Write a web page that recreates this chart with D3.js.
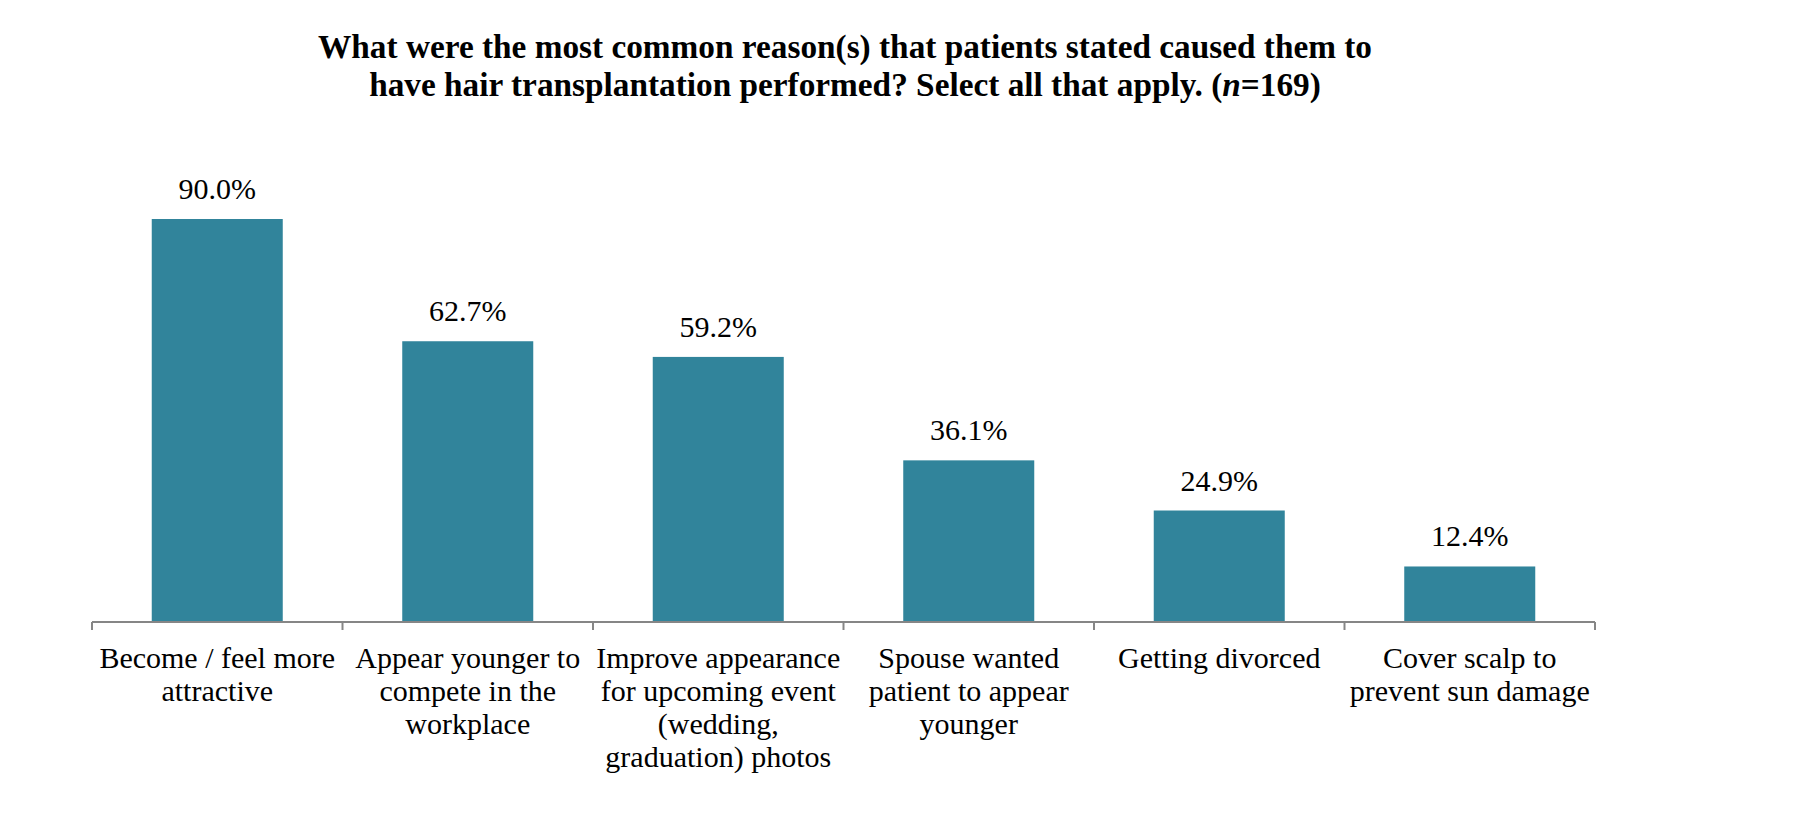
<!DOCTYPE html>
<html>
<head>
<meta charset="utf-8">
<script src="https://cdn.jsdelivr.net/npm/d3@7"></script>
<style>
  html, body { margin: 0; padding: 0; background: #fff; }
  svg text { font-family: "Liberation Serif", "Times New Roman", serif; fill: #000; }
</style>
</head>
<body>
<div id="chart"></div>
<script>
// Chart data
const categories = [
    ['Become / feel more', 'attractive'],
    ['Appear younger to', 'compete in the', 'workplace'],
    ['Improve appearance', 'for upcoming event', '(wedding,', 'graduation) photos'],
    ['Spouse wanted', 'patient to appear', 'younger'],
    ['Getting divorced'],
    ['Cover scalp to', 'prevent sun damage']
];
const values = [90.0, 62.7, 59.2, 36.1, 24.9, 12.4];
const titleLine1 = 'What were the most common reason(s) that patients stated caused them to';
const titleLine2 = ['have hair transplantation performed? Select all that apply. (', 'n', '=169)'];

function createBarChart(containerId = 'chart') {
    d3.select(`#${containerId}`).html('');

    const width = 1800;
    const height = 815;
    const left = 92, right = 1595, baseY = 622;

    const svg = d3.select(`#${containerId}`)
        .append('svg')
        .attr('width', width)
        .attr('height', height);

    // Title (two lines, "n" in italics)
    const title = svg.append('text')
        .attr('text-anchor', 'middle')
        .style('font-size', '33.3px')
        .style('font-weight', 'bold');
    title.append('tspan').attr('x', 845).attr('y', 58).text(titleLine1);
    const l2 = title.append('tspan').attr('x', 845).attr('dy', 38);
    l2.append('tspan').text(titleLine2[0]);
    l2.append('tspan').style('font-style', 'italic').text(titleLine2[1]);
    l2.append('tspan').text(titleLine2[2]);

    const x = d3.scaleBand()
        .domain(d3.range(values.length))
        .range([left, right])
        .paddingInner(0.477)
        .paddingOuter(0.2385);

    const y = d3.scaleLinear()
        .domain([0, 100])
        .range([baseY, baseY - 100 * 403 / 90]);

    // Bars
    svg.selectAll('rect.bar')
        .data(values)
        .enter()
        .append('rect')
        .attr('class', 'bar')
        .attr('x', (d, i) => x(i))
        .attr('y', d => y(d))
        .attr('width', x.bandwidth())
        .attr('height', d => y(0) - y(d))
        .attr('fill', '#31849b');

    // Value labels
    svg.selectAll('text.value')
        .data(values)
        .enter()
        .append('text')
        .attr('class', 'value')
        .attr('x', (d, i) => x(i) + x.bandwidth() / 2)
        .attr('y', d => y(d) - 20)
        .attr('text-anchor', 'middle')
        .style('font-size', '30px')
        .text(d => d.toFixed(1) + '%');

    // Category axis, ticks sit between the bands
    const axis = svg.append('g');
    axis.append('line')
        .attr('x1', left).attr('x2', right)
        .attr('y1', baseY).attr('y2', baseY)
        .attr('stroke', '#868686')
        .attr('stroke-width', 2);

    const step = x.step();
    axis.selectAll('line.tick')
        .data(d3.range(values.length + 1))
        .enter()
        .append('line')
        .attr('class', 'tick')
        .attr('x1', i => left + i * step)
        .attr('x2', i => left + i * step)
        .attr('y1', baseY)
        .attr('y2', baseY + 8)
        .attr('stroke', '#868686')
        .attr('stroke-width', 2);

    // Category labels
    const labels = svg.selectAll('text.cat')
        .data(categories)
        .enter()
        .append('text')
        .attr('class', 'cat')
        .attr('text-anchor', 'middle')
        .style('font-size', '30px');

    labels.each(function(lines, i) {
        const cx = x(i) + x.bandwidth() / 2;
        d3.select(this).selectAll('tspan')
            .data(lines)
            .enter()
            .append('tspan')
            .attr('x', cx)
            .attr('y', (d, j) => 668 + j * 33)
            .text(d => d);
    });
}

createBarChart();
</script>
</body>
</html>
